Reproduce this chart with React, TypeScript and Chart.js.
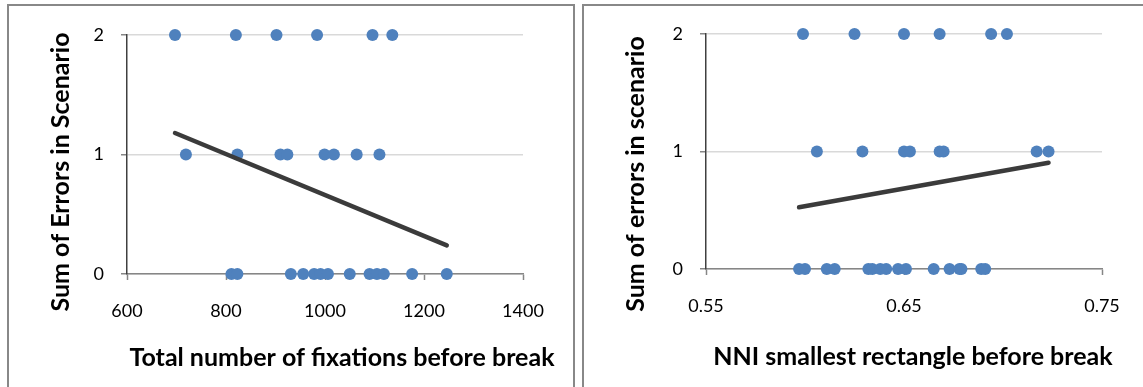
import React, { useEffect, useRef } from "react";
import { Chart, registerables } from "chart.js";

Chart.register(...registerables);

// ---------- Data ----------
// Left chart: total number of fixations before break, grouped by sum of errors
const fixationsErr2 = [697, 820, 902, 984, 1096, 1136];
const fixationsErr1 = [719, 823, 910, 924, 999, 1018, 1064, 1110];
const fixationsErr0 = [811, 823, 931, 956, 978, 991, 1006, 1050, 1090, 1105, 1119, 1176, 1246];
const fixTrendX = [697, 1246];
const fixTrendY = [1.18, 0.24];
const fixXTicks = [600, 800, 1000, 1200, 1400];

// Right chart: NNI smallest rectangle before break, grouped by sum of errors
const nniErr2 = [0.599, 0.625, 0.65, 0.668, 0.694, 0.702];
const nniErr1 = [0.606, 0.629, 0.65, 0.653, 0.668, 0.67, 0.717, 0.723];
const nniErr0 = [0.597, 0.6, 0.611, 0.615, 0.632, 0.634, 0.638, 0.641, 0.647, 0.651, 0.665, 0.673, 0.678, 0.679, 0.689, 0.691];
const nniTrendX = [0.597, 0.723];
const nniTrendY = [0.525, 0.905];
const nniXTicks = [0.55, 0.65, 0.75];

const yTicks = [0, 1, 2];

const FONT = "Lato";

const titlePlugin = {
  id: "axisTitles",
  afterDraw(chart: any, _args: any, opts: any) {
    const ctx = chart.ctx;
    ctx.save();
    ctx.font = `bold ${opts.size}px ${FONT}`;
    ctx.fillStyle = "#000";
    ctx.textAlign = "center";
    ctx.textBaseline = "alphabetic";
    ctx.fillText(opts.xText, opts.xX, opts.xY);
    ctx.translate(opts.yX, opts.yY);
    ctx.rotate(-Math.PI / 2);
    ctx.fillText(opts.yText, 0, 0);
    ctx.restore();
  },
};

type PanelProps = {
  err0: number[];
  err1: number[];
  err2: number[];
  trendX: number[];
  trendY: number[];
  xTicks: number[];
  xMin: number;
  xMax: number;
  decimals: number;
  xTitle: string;
  yTitle: string;
  width: number;
  height: number;
  yAxisWidth: number;
  xAxisHeight: number;
  padTop: number;
  padRight: number;
  titles: { xX: number; xY: number; yX: number; yY: number };
};

function ScatterPanel(p: PanelProps) {
  const ref = useRef<HTMLCanvasElement | null>(null);
  useEffect(() => {
    if (!ref.current) return;
    const pts = [
      ...p.err0.map((x) => ({ x, y: 0 })),
      ...p.err1.map((x) => ({ x, y: 1 })),
      ...p.err2.map((x) => ({ x, y: 2 })),
    ];
    const trend = p.trendX.map((x, i) => ({ x, y: p.trendY[i] }));
    const chart = new Chart(ref.current, {
      type: "scatter",
      data: {
        datasets: [
          {
            data: trend,
            showLine: true,
            borderColor: "#3b3b3b",
            borderWidth: 4.5,
            borderCapStyle: "round",
            pointRadius: 0,
            order: 0,
            clip: false,
          } as any,
          {
            data: pts,
            backgroundColor: "#4F81BD",
            borderColor: "#4F81BD",
            pointRadius: 6,
            borderWidth: 0,
            order: 1,
            clip: false,
          } as any,
        ],
      },
      options: {
        animation: false,
        responsive: false,
        maintainAspectRatio: false,
        layout: { padding: { left: 0, top: p.padTop, right: p.padRight, bottom: 0 } },
        plugins: {
          legend: { display: false },
          tooltip: { enabled: false },
          axisTitles: { ...p.titles, xText: p.xTitle, yText: p.yTitle, size: 25 },
        } as any,
        scales: {
          x: {
            type: "linear",
            min: p.xMin,
            max: p.xMax,
            afterBuildTicks: (s: any) => {
              s.ticks = p.xTicks.map((v) => ({ value: v }));
            },
            afterFit: (s: any) => {
              s.height = p.xAxisHeight;
            },
            ticks: {
              color: "#000",
              font: { family: FONT, size: 18 },
              padding: 20,
              maxRotation: 0,
              callback: (v: any) => Number(v).toFixed(p.decimals),
            },
            grid: {
              drawOnChartArea: false,
              drawTicks: true,
              tickLength: 6,
              tickColor: "#868686",
              tickWidth: 1.5,
            },
            border: { display: true, color: "#868686", width: 1.5 },
          },
          y: {
            type: "linear",
            min: 0,
            max: 2,
            afterBuildTicks: (s: any) => {
              s.ticks = yTicks.map((v) => ({ value: v }));
            },
            afterFit: (s: any) => {
              s.width = p.yAxisWidth;
            },
            ticks: {
              color: "#000",
              font: { family: FONT, size: 18 },
              padding: 17,
            },
            grid: {
              color: "#D9D9D9",
              lineWidth: 1.5,
              drawTicks: true,
              tickLength: 6,
              tickColor: "#868686",
              tickWidth: 1.5,
            },
            border: { display: true, color: "#404040", width: 1.5 },
          },
        },
      },
      plugins: [titlePlugin],
    });
    return () => chart.destroy();
  }, []);
  return <canvas ref={ref} width={p.width} height={p.height} style={{ display: "block" }} />;
}

export default function App() {
  return (
    <div style={{ position: "absolute", left: 0, top: 0, width: 1143, height: 387, overflow: "hidden", background: "#fff" }}>
      <div
        style={{
          position: "absolute",
          left: 7,
          top: 4,
          width: 568,
          height: 430,
          boxSizing: "border-box",
          border: "2px solid #888",
          background: "#fff",
        }}
      >
        <ScatterPanel
          err0={fixationsErr0}
          err1={fixationsErr1}
          err2={fixationsErr2}
          trendX={fixTrendX}
          trendY={fixTrendY}
          xTicks={fixXTicks}
          xMin={600}
          xMax={1400}
          decimals={0}
          xTitle="Total number of fixations before break"
          yTitle="Sum of Errors in Scenario"
          width={564}
          height={381}
          yAxisWidth={118}
          xAxisHeight={113}
          padTop={29}
          padRight={50}
          titles={{ xX: 333, xY: 360, yX: 60, yY: 166 }}
        />
      </div>
      <div
        style={{
          position: "absolute",
          left: 582,
          top: 4,
          width: 620,
          height: 430,
          boxSizing: "border-box",
          border: "2px solid #888",
          background: "#fff",
        }}
      >
        <ScatterPanel
          err0={nniErr0}
          err1={nniErr1}
          err2={nniErr2}
          trendX={nniTrendX}
          trendY={nniTrendY}
          xTicks={nniXTicks}
          xMin={0.55}
          xMax={0.75}
          decimals={2}
          xTitle="NNI smallest rectangle before break"
          yTitle="Sum of errors in scenario"
          width={559}
          height={381}
          yAxisWidth={122}
          xAxisHeight={118}
          padTop={28}
          padRight={41}
          titles={{ xX: 329, xY: 359, yX: 60, yY: 168 }}
        />
      </div>
    </div>
  );
}
